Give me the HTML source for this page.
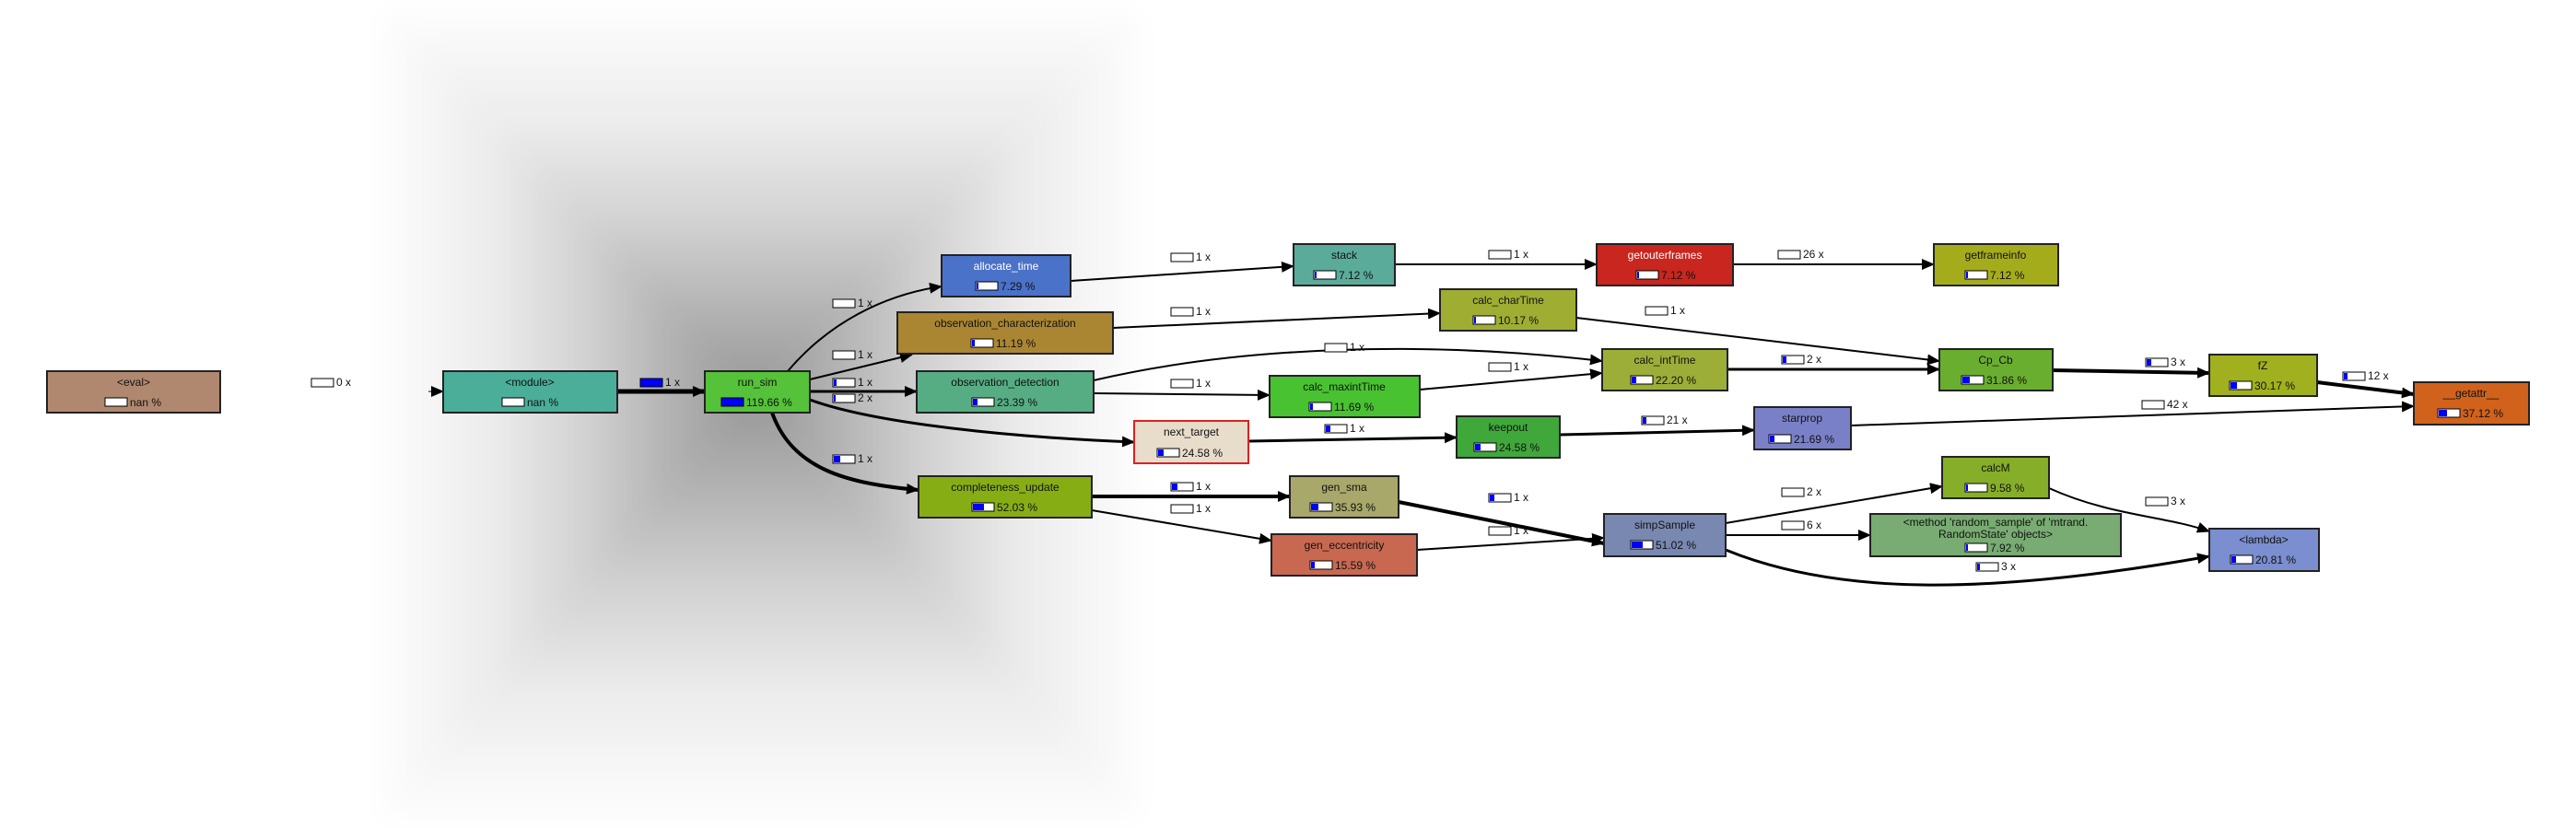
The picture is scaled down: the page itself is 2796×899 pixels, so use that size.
<!DOCTYPE html>
<html><head><meta charset="utf-8"><style>
html,body{margin:0;padding:0;background:#fff;}
svg{display:block;font-family:"Liberation Sans",sans-serif;}
.t{font-size:12px;text-anchor:middle;fill:#111;}
.w{fill:#fff;}
.p{font-size:12px;fill:#111;}
.l{font-size:12px;fill:#111;}
.e{fill:none;stroke:#000;}
</style></head><body>
<svg width="2796" height="899" viewBox="0 0 2796 899" xmlns="http://www.w3.org/2000/svg">
<defs>
<marker id="a" markerUnits="userSpaceOnUse" markerWidth="14" markerHeight="14" viewBox="0 0 14 14" refX="13" refY="7" orient="auto"><path d="M0,1 L14,7 L0,13 Z" fill="#000"/></marker>
<linearGradient id="gl" x1="816" y1="0" x2="412" y2="0" gradientUnits="userSpaceOnUse"><stop offset="0" stop-color="#979797"/><stop offset="0.2" stop-color="#b0b0b0"/><stop offset="0.45" stop-color="#d2d2d2"/><stop offset="0.7" stop-color="#ececec"/><stop offset="1" stop-color="#fdfdfd"/></linearGradient>
<linearGradient id="gr" x1="816" y1="0" x2="1240" y2="0" gradientUnits="userSpaceOnUse"><stop offset="0" stop-color="#979797"/><stop offset="0.2" stop-color="#b0b0b0"/><stop offset="0.45" stop-color="#d2d2d2"/><stop offset="0.7" stop-color="#ececec"/><stop offset="1" stop-color="#fdfdfd"/></linearGradient>
<linearGradient id="gt" x1="0" y1="430" x2="0" y2="10" gradientUnits="userSpaceOnUse"><stop offset="0" stop-color="#979797"/><stop offset="0.2" stop-color="#b0b0b0"/><stop offset="0.45" stop-color="#d2d2d2"/><stop offset="0.7" stop-color="#ececec"/><stop offset="1" stop-color="#fdfdfd"/></linearGradient>
<linearGradient id="gb" x1="0" y1="430" x2="0" y2="890" gradientUnits="userSpaceOnUse"><stop offset="0" stop-color="#979797"/><stop offset="0.2" stop-color="#b0b0b0"/><stop offset="0.45" stop-color="#d2d2d2"/><stop offset="0.7" stop-color="#ececec"/><stop offset="1" stop-color="#fdfdfd"/></linearGradient>
<filter id="bl" x="-10%" y="-10%" width="120%" height="120%"><feGaussianBlur stdDeviation="14"/></filter>
</defs>
<!-- background -->
<g filter="url(#bl)">
<polygon points="412,10 816,430 412,890" fill="url(#gl)"/>
<polygon points="1240,10 816,430 1240,890" fill="url(#gr)"/>
<polygon points="412,10 1240,10 816,430" fill="url(#gt)"/>
<polygon points="412,890 1240,890 816,430" fill="url(#gb)"/>
</g>

<!-- edges -->
<path class="e" stroke-width="1" d="M465,425 L481,425" marker-end="url(#a)"/>
<path class="e" stroke-width="5" d="M670,425 L765,425" marker-end="url(#a)"/>
<path class="e" stroke-width="2" d="M855,403 C900,350 960,320 1022,311" marker-end="url(#a)"/>
<path class="e" stroke-width="2" d="M879,412 L990,385" marker-end="url(#a)"/>
<path class="e" stroke-width="3" d="M879,425 L995,425" marker-end="url(#a)"/>
<path class="e" stroke-width="3" d="M879,434 C950,460 1100,475 1231,480" marker-end="url(#a)"/>
<path class="e" stroke-width="4" d="M838,448 C860,510 920,525 997,532" marker-end="url(#a)"/>
<path class="e" stroke-width="2" d="M1162,305 L1404,289" marker-end="url(#a)"/>
<path class="e" stroke-width="2" d="M1514,287 L1733,287" marker-end="url(#a)"/>
<path class="e" stroke-width="2" d="M1881,287 L2099,287" marker-end="url(#a)"/>
<path class="e" stroke-width="2" d="M1208,356 L1563,340" marker-end="url(#a)"/>
<path class="e" stroke-width="2" d="M1187,413 C1350,375 1550,370 1739,392" marker-end="url(#a)"/>
<path class="e" stroke-width="2" d="M1187,427 L1378,429" marker-end="url(#a)"/>
<path class="e" stroke-width="2" d="M1541,423 L1739,405" marker-end="url(#a)"/>
<path class="e" stroke-width="2" d="M1711,345 L2105,392" marker-end="url(#a)"/>
<path class="e" stroke-width="3" d="M1875,401 L2105,401" marker-end="url(#a)"/>
<path class="e" stroke-width="4" d="M2228,402 L2398,405" marker-end="url(#a)"/>
<path class="e" stroke-width="4" d="M2515,415 L2620,428" marker-end="url(#a)"/>
<path class="e" stroke-width="2" d="M2009,462 L2620,441" marker-end="url(#a)"/>
<path class="e" stroke-width="3" d="M1355,479 L1581,475" marker-end="url(#a)"/>
<path class="e" stroke-width="3" d="M1693,472 L1904,467" marker-end="url(#a)"/>
<path class="e" stroke-width="4" d="M1185,539 L1400,539" marker-end="url(#a)"/>
<path class="e" stroke-width="2" d="M1185,554 L1380,587" marker-end="url(#a)"/>
<path class="e" stroke-width="4" d="M1518,545 L1741,590" marker-end="url(#a)"/>
<path class="e" stroke-width="2" d="M1538,597 L1741,584" marker-end="url(#a)"/>
<path class="e" stroke-width="2" d="M1873,568 L2108,528" marker-end="url(#a)"/>
<path class="e" stroke-width="2" d="M1873,581 L2030,581" marker-end="url(#a)"/>
<path class="e" stroke-width="3" d="M1873,597 C1990,645 2150,648 2398,604" marker-end="url(#a)"/>
<path class="e" stroke-width="2" d="M2224,530 C2290,560 2350,560 2398,577" marker-end="url(#a)"/>

<!-- edge labels -->
<g stroke="#000" stroke-width="1" fill="#fff">
<rect x="338" y="411" width="24" height="9"/>
<rect x="695" y="411" width="24" height="9" fill="#00f"/>
<rect x="904" y="325" width="24" height="9"/>
<rect x="904" y="381" width="24" height="9"/>
<rect x="904" y="411" width="24" height="9"/>
<rect x="904" y="428" width="24" height="9"/>
<rect x="904" y="494" width="24" height="9"/>
<rect x="1271" y="275" width="24" height="9"/>
<rect x="1616" y="272" width="24" height="9"/>
<rect x="1271" y="334" width="24" height="9"/>
<rect x="1786" y="333" width="24" height="9"/>
<rect x="1438" y="373" width="24" height="9"/>
<rect x="1616" y="394" width="24" height="9"/>
<rect x="1271" y="412" width="24" height="9"/>
<rect x="1438" y="461" width="24" height="9"/>
<rect x="1782" y="452" width="24" height="9"/>
<rect x="1271" y="524" width="24" height="9"/>
<rect x="1271" y="548" width="24" height="9"/>
<rect x="1616" y="536" width="24" height="9"/>
<rect x="1616" y="572" width="24" height="9"/>
<rect x="1930" y="272" width="24" height="9"/>
<rect x="1934" y="386" width="24" height="9"/>
<rect x="2329" y="389" width="24" height="9"/>
<rect x="2543" y="404" width="24" height="9"/>
<rect x="2325" y="435" width="24" height="9"/>
<rect x="1934" y="530" width="24" height="9"/>
<rect x="1934" y="566" width="24" height="9"/>
<rect x="2329" y="540" width="24" height="9"/>
<rect x="2145" y="611" width="24" height="9"/>
</g>
<g fill="#00f">
<rect x="905" y="412" width="3" height="7"/><rect x="905" y="429" width="2" height="7"/><rect x="905" y="495" width="7" height="7"/>
<rect x="1272" y="525" width="6" height="7"/><rect x="1439" y="462" width="5" height="7"/><rect x="1783" y="453" width="4" height="7"/>
<rect x="1617" y="537" width="5" height="7"/><rect x="1935" y="387" width="4" height="7"/><rect x="2330" y="390" width="5" height="7"/>
<rect x="2544" y="405" width="4" height="7"/><rect x="2146" y="612" width="3" height="7"/>
</g>
<g class="l">
<text x="365" y="419">0 x</text><text x="722" y="419">1 x</text>
<text x="931" y="333">1 x</text><text x="931" y="389">1 x</text><text x="931" y="419">1 x</text><text x="931" y="436">2 x</text><text x="931" y="502">1 x</text>
<text x="1298" y="283">1 x</text><text x="1643" y="280">1 x</text><text x="1298" y="342">1 x</text><text x="1813" y="341">1 x</text>
<text x="1465" y="381">1 x</text><text x="1643" y="402">1 x</text><text x="1298" y="420">1 x</text><text x="1465" y="469">1 x</text>
<text x="1809" y="460">21 x</text><text x="1298" y="532">1 x</text><text x="1298" y="556">1 x</text><text x="1643" y="544">1 x</text>
<text x="1643" y="580">1 x</text><text x="1957" y="280">26 x</text><text x="1961" y="394">2 x</text><text x="2356" y="397">3 x</text>
<text x="2570" y="412">12 x</text><text x="2352" y="443">42 x</text><text x="1961" y="538">2 x</text><text x="1961" y="574">6 x</text>
<text x="2356" y="548">3 x</text><text x="2172" y="619">3 x</text>
</g>

<!-- nodes -->
<g stroke="#222" stroke-width="2">
<rect x="51" y="403" width="188" height="45" fill="#b08870"/>
<rect x="481" y="403" width="189" height="45" fill="#4aae98"/>
<rect x="765" y="403" width="114" height="45" fill="#55c23a"/>
<rect x="1022" y="277" width="140" height="45" fill="#4a72c8"/>
<rect x="1404" y="265" width="110" height="45" fill="#5aab9a"/>
<rect x="1733" y="265" width="148" height="45" fill="#c8261e"/>
<rect x="2099" y="265" width="135" height="45" fill="#a5ac1b"/>
<rect x="974" y="339" width="234" height="45" fill="#ab8632"/>
<rect x="1563" y="314" width="148" height="45" fill="#9fae33"/>
<rect x="995" y="403" width="192" height="45" fill="#56ad84"/>
<rect x="1739" y="379" width="136" height="45" fill="#9dae38"/>
<rect x="1378" y="408" width="163" height="45" fill="#48c230"/>
<rect x="1231" y="457" width="124" height="46" fill="#e8dccb" stroke="#e02020"/>
<rect x="1581" y="452" width="112" height="45" fill="#40a83a"/>
<rect x="997" y="517" width="188" height="45" fill="#86ae14"/>
<rect x="1400" y="517" width="118" height="45" fill="#a8a86a"/>
<rect x="1380" y="580" width="158" height="45" fill="#c86850"/>
<rect x="1741" y="558" width="132" height="46" fill="#7888b0"/>
<rect x="2105" y="379" width="123" height="45" fill="#6aae30"/>
<rect x="2398" y="385" width="117" height="45" fill="#a0b01e"/>
<rect x="2620" y="415" width="125" height="46" fill="#d0621c"/>
<rect x="1904" y="442" width="105" height="46" fill="#7a80c8"/>
<rect x="2108" y="496" width="116" height="45" fill="#86ae28"/>
<rect x="2030" y="558" width="272" height="46" fill="#78ac72"/>
<rect x="2398" y="574" width="119" height="46" fill="#7a8ed0"/>
</g>
<g class="t">
<text x="145" y="419">&lt;eval&gt;</text>
<text x="575" y="419">&lt;module&gt;</text>
<text x="822" y="419">run_sim</text>
<text x="1092" y="293" class="t w">allocate_time</text>
<text x="1459" y="281">stack</text>
<text x="1807" y="281" class="t w">getouterframes</text>
<text x="2166" y="281">getframeinfo</text>
<text x="1091" y="355">observation_characterization</text>
<text x="1637" y="330">calc_charTime</text>
<text x="1091" y="419">observation_detection</text>
<text x="1807" y="395">calc_intTime</text>
<text x="1459" y="424">calc_maxintTime</text>
<text x="1293" y="473">next_target</text>
<text x="1637" y="468">keepout</text>
<text x="1091" y="533">completeness_update</text>
<text x="1459" y="533">gen_sma</text>
<text x="1459" y="596">gen_eccentricity</text>
<text x="1807" y="574">simpSample</text>
<text x="2166" y="395">Cp_Cb</text>
<text x="2456" y="401">fZ</text>
<text x="2682" y="431">__getattr__</text>
<text x="1956" y="458">starprop</text>
<text x="2166" y="512">calcM</text>
<text x="2166" y="571">&lt;method 'random_sample' of 'mtrand.</text>
<text x="2166" y="584">RandomState' objects&gt;</text>
<text x="2457" y="590">&lt;lambda&gt;</text>
</g>
<!-- percent bars -->
<g stroke="#000" stroke-width="1" fill="#fff">
<rect x="114" y="432" width="24" height="9"/>
<rect x="545" y="432" width="24" height="9"/>
<rect x="783" y="432" width="24" height="9" fill="#00f"/>
<rect x="1059" y="306" width="24" height="9"/>
<rect x="1426" y="294" width="24" height="9"/>
<rect x="1776" y="294" width="24" height="9"/>
<rect x="2133" y="294" width="24" height="9"/>
<rect x="1054" y="368" width="24" height="9"/>
<rect x="1599" y="343" width="24" height="9"/>
<rect x="1055" y="432" width="24" height="9"/>
<rect x="1770" y="408" width="24" height="9"/>
<rect x="1421" y="437" width="24" height="9"/>
<rect x="1256" y="487" width="24" height="9"/>
<rect x="1600" y="481" width="24" height="9"/>
<rect x="1055" y="546" width="24" height="9"/>
<rect x="1422" y="546" width="24" height="9"/>
<rect x="1422" y="609" width="24" height="9"/>
<rect x="1770" y="587" width="24" height="9"/>
<rect x="2129" y="408" width="24" height="9"/>
<rect x="2420" y="414" width="24" height="9"/>
<rect x="2646" y="444" width="24" height="9"/>
<rect x="1920" y="472" width="24" height="9"/>
<rect x="2133" y="525" width="24" height="9"/>
<rect x="2133" y="590" width="24" height="9"/>
<rect x="2421" y="603" width="24" height="9"/>
</g>
<g fill="#00f">
<rect x="1060" y="307" width="2" height="7"/><rect x="1427" y="295" width="2" height="7"/><rect x="1777" y="295" width="2" height="7"/>
<rect x="2134" y="295" width="2" height="7"/><rect x="1055" y="369" width="3" height="7"/><rect x="1600" y="344" width="2" height="7"/>
<rect x="1056" y="433" width="5" height="7"/><rect x="1771" y="409" width="5" height="7"/><rect x="1422" y="438" width="3" height="7"/>
<rect x="1257" y="488" width="6" height="7"/><rect x="1601" y="482" width="6" height="7"/><rect x="1056" y="547" width="12" height="7"/>
<rect x="1423" y="547" width="8" height="7"/><rect x="1423" y="610" width="4" height="7"/><rect x="1771" y="588" width="12" height="7"/>
<rect x="2130" y="409" width="8" height="7"/><rect x="2421" y="415" width="7" height="7"/><rect x="2647" y="445" width="9" height="7"/>
<rect x="1921" y="473" width="5" height="7"/><rect x="2134" y="526" width="2" height="7"/><rect x="2134" y="591" width="2" height="7"/>
<rect x="2422" y="604" width="5" height="7"/>
</g>
<g class="p">
<text x="141" y="441">nan %</text>
<text x="572" y="441">nan %</text>
<text x="810" y="441">119.66 %</text>
<text x="1086" y="315" class="p w">7.29 %</text>
<text x="1453" y="303">7.12 %</text>
<text x="1803" y="303" class="p w">7.12 %</text>
<text x="2160" y="303">7.12 %</text>
<text x="1081" y="377">11.19 %</text>
<text x="1626" y="352">10.17 %</text>
<text x="1082" y="441">23.39 %</text>
<text x="1797" y="417">22.20 %</text>
<text x="1448" y="446">11.69 %</text>
<text x="1283" y="496">24.58 %</text>
<text x="1627" y="490">24.58 %</text>
<text x="1082" y="555">52.03 %</text>
<text x="1449" y="555">35.93 %</text>
<text x="1449" y="618">15.59 %</text>
<text x="1797" y="596">51.02 %</text>
<text x="2156" y="417">31.86 %</text>
<text x="2447" y="423">30.17 %</text>
<text x="2673" y="453">37.12 %</text>
<text x="1947" y="481">21.69 %</text>
<text x="2160" y="534">9.58 %</text>
<text x="2160" y="599">7.92 %</text>
<text x="2448" y="612">20.81 %</text>
</g>
</svg>
</body></html>
